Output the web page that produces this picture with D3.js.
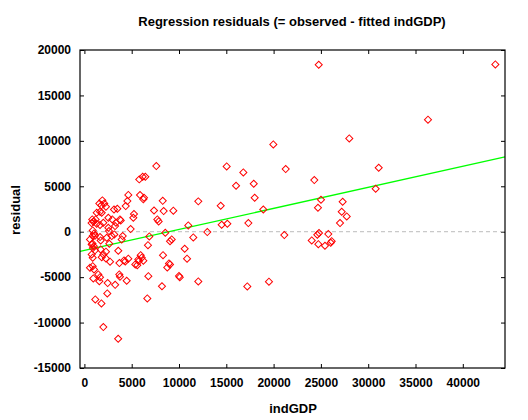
<!DOCTYPE html>
<html>
<head>
<meta charset="utf-8">
<script src="https://cdn.jsdelivr.net/npm/d3@7"></script>
<style>
  body { margin: 0; background: #fff; }
  text { font-family: "Liberation Sans", Arial, sans-serif; font-weight: bold; fill: #000; }
</style>
</head>
<body>
<main></main>
<script>
// 1. Data

const indGDP = [
  24770, 43440, 36320, 28000, 19970, 16800, 21280, 31110, 17900, 24300,
  18000, 30790, 18910, 25010, 24690, 27300, 27200, 27730, 27020, 17330,
  21130, 24800, 24620, 25780, 24030, 24730, 25430, 26140, 26040, 17220,
  19510, 15040, 16030, 12040, 14410, 9400, 10980, 14510, 15110, 12990,
  9230, 9050, 11510, 10600, 10850, 9050, 10000, 10080, 12040, 8200,
  6650, 6720, 6860, 8310, 8940, 8760, 8550, 8280, 7360, 8380,
  7710, 7850, 6230, 7600, 5800, 6160, 6440, 4640, 5880, 6300,
  4370, 4540, 5240, 5170, 4890, 3840, 2950, 3130, 3480, 2530,
  3760, 4050, 3580, 4190, 4320, 4640, 3690, 3760, 4470, 5380,
  5740, 5950, 6230, 5700, 6060, 5590, 6760, 3250, 2460, 2420,
  1150, 1800, 2000, 3570, 2710, 3700, 3160, 3340, 3240, 2530,
  2600, 1580, 1900, 2100, 1800, 2280, 1650, 1300, 1830, 830,
  1190, 950, 1300, 760, 1650, 2000, 880, 1020, 1120, 1650,
  880, 590, 1720, 2630, 2360, 2890, 3940, 770, 1000, 900,
  1120, 850, 880, 770, 590, 880, 1020, 940, 1470, 1650,
  1580, 1720, 2000, 1830, 2280, 2280
];

const residual = [
  18380, 18410, 12330, 10270, 9610, 6530, 6890, 7040, 5280, 5680,
  3740, 4730, 2450, 3520, 2640, 3300, 2200, 1680, 950, 950,
  -370, -150, -330, -260, -960, -1370, -1540, -1040, -1210, -6020,
  -5500, 7190, 5060, 3340, 2860, 2320, 690, 770, 880, -40,
  -850, -1040, -630, -1870, -2970, -3600, -4880, -5000, -5470, -6000,
  -7340, -1480, -520, -2580, -3490, -3930, -110, 3400, 2340, 2270,
  1350, 1130, 3560, 7220, 5760, 6050, 6050, 4050, 4030, 3740,
  2820, 3370, 1940, 1540, 290, 1240, 1350, 2450, 2530, 1540,
  1350, -480, -2100, -3160, -3270, -2970, -4700, -4950, -5400, -3600,
  -3240, -2580, -3190, -3050, -2860, -3680, -4890, -5850, -5650, -6790,
  -7450, -7890, -10500, -11780, -3300, -3450, -300, 990, 620, 440,
  70, 3100, 3450, 3100, 2900, 2750, 2200, 2090, 2090, 1350,
  1350, 1100, 880, 950, 750, 990, 140, -190, -440, -590,
  -480, -850, -960, -1320, -660, -480, -850, -1400, -1600, -1800,
  -2050, -1300, -2860, -2500, -3960, -3790, -4150, -5140, -4700, -5000,
  -5440, -1950, -2500, -2800, -2200, -2940
];

// fitted line of residual on indGDP
const fitIntercept = -2062;
const fitSlope = 0.2314;

const xTicks = [0, 5000, 10000, 15000, 20000, 25000, 30000, 35000, 40000];
const yTicks = [-15000, -10000, -5000, 0, 5000, 10000, 15000, 20000];

const points = indGDP.map((d, i) => ({ x: d, y: residual[i] }));

// 2. Dimensions

const width = 528;
const height = 420;
const margin = { top: 50, right: 23, bottom: 52, left: 80 };
const innerW = width - margin.left - margin.right;
const innerH = height - margin.top - margin.bottom;

// 3. Canvas

const svg = d3.select("main")
  .append("svg")
  .attr("width", width)
  .attr("height", height);

const g = svg.append("g")
  .attr("transform", `translate(${margin.left},${margin.top})`);

// 4. Scales

const xScale = d3.scaleLinear()
  .domain([-465, 44460])
  .range([0, innerW]);

const yScale = d3.scaleLinear()
  .domain([-15000, 20000])
  .range([innerH, 0]);

// 5. Axes (ticks point inward on all four sides)

const plain = d => String(d);

const styleAxis = sel => {
  sel.select(".domain").remove();
  sel.selectAll(".tick line").attr("stroke", "#000");
  sel.selectAll(".tick text").style("font-size", "12px");
};

g.append("g")
  .attr("transform", `translate(0,${innerH})`)
  .call(d3.axisBottom(xScale).tickValues(xTicks).tickSize(-4).tickPadding(10).tickFormat(plain))
  .call(styleAxis);

g.append("g")
  .call(d3.axisTop(xScale).tickValues(xTicks).tickSize(-4).tickFormat(""))
  .call(styleAxis);

g.append("g")
  .call(d3.axisLeft(yScale).tickValues(yTicks).tickSize(-4).tickPadding(9).tickFormat(plain))
  .call(styleAxis);

g.append("g")
  .attr("transform", `translate(${innerW},0)`)
  .call(d3.axisRight(yScale).tickValues(yTicks).tickSize(-4).tickFormat(""))
  .call(styleAxis);

// zero line
g.append("line")
  .attr("x1", 0)
  .attr("x2", innerW)
  .attr("y1", yScale(0))
  .attr("y2", yScale(0))
  .attr("stroke", "#bbbbbb")
  .attr("stroke-dasharray", "4,3");

// regression line
const [x0, x1] = xScale.domain();
g.append("line")
  .attr("x1", xScale(x0))
  .attr("x2", xScale(x1))
  .attr("y1", yScale(fitIntercept + fitSlope * x0))
  .attr("y2", yScale(fitIntercept + fitSlope * x1))
  .attr("stroke", "#00ff00")
  .attr("stroke-width", 1.3);

// 6. Points

const diamond = d3.symbol(d3.symbolSquare, 25);

g.selectAll("path.pt")
  .data(points)
  .enter()
  .append("path")
  .attr("class", "pt")
  .attr("d", diamond)
  .attr("transform", d => `translate(${xScale(d.x)},${yScale(d.y)}) rotate(45)`)
  .attr("fill", "none")
  .attr("stroke", "#ff0000")
  .attr("stroke-width", 1);

// frame
g.append("rect")
  .attr("x", 0)
  .attr("y", 0)
  .attr("width", innerW)
  .attr("height", innerH)
  .attr("fill", "none")
  .attr("stroke", "#000")
  .attr("stroke-width", 1.2);

// 7. Labels

svg.append("text")
  .attr("x", 292)
  .attr("y", 26)
  .attr("text-anchor", "middle")
  .style("font-size", "13px")
  .text("Regression residuals (= observed - fitted indGDP)");

svg.append("text")
  .attr("x", 293)
  .attr("y", 413)
  .attr("text-anchor", "middle")
  .style("font-size", "13px")
  .text("indGDP");

svg.append("text")
  .attr("transform", "translate(20,210) rotate(-90)")
  .attr("text-anchor", "middle")
  .style("font-size", "13px")
  .text("residual");
</script>
</body>
</html>
